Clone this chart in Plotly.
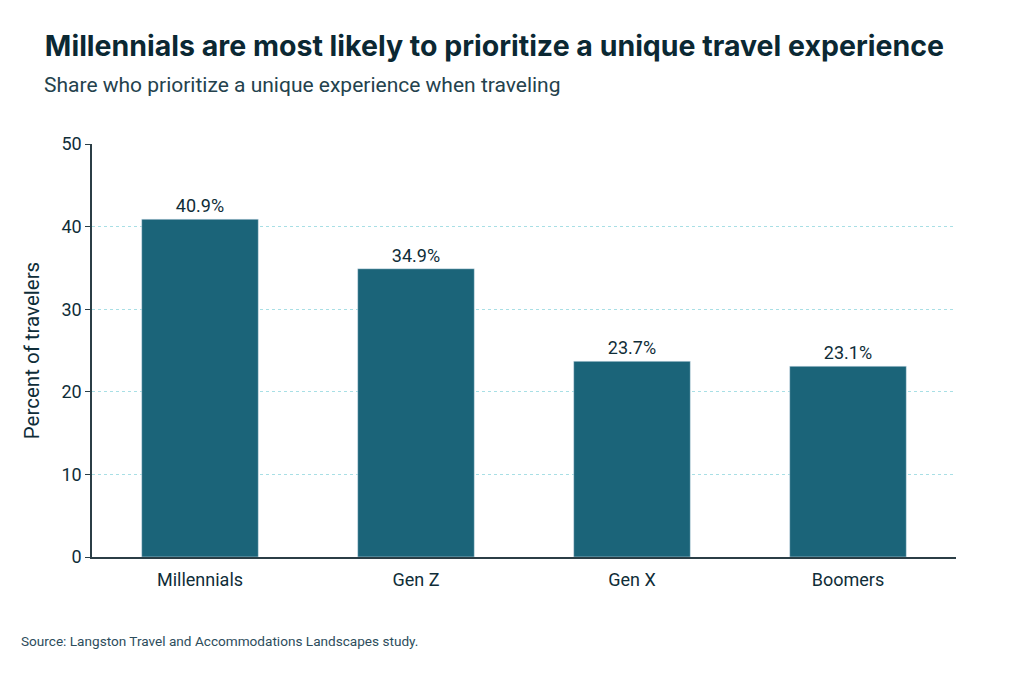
import plotly.graph_objects as go

generations = ["Millennials", "Gen Z", "Gen X", "Boomers"]
share = [40.9, 34.9, 23.7, 23.1]
labels = ["40.9%", "34.9%", "23.7%", "23.1%"]
y_ticks = [0, 10, 20, 30, 40, 50]

dark = "#0f2d38"
bar_col = "#1b6479"

fig = go.Figure()
fig.add_trace(go.Bar(
    x=generations, y=share, text=labels, textposition="outside",
    textfont=dict(size=18, color=dark), marker_color=bar_col,
    width=0.54, cliponaxis=False,
))

fig.update_layout(
    width=1024, height=683,
    margin=dict(l=84, r=76, t=136, b=134),
    paper_bgcolor="white", plot_bgcolor="white",
    font=dict(family="Roboto", color=dark),
    showlegend=False,
    title=dict(text="<b>Millennials are most likely to prioritize a unique travel experience</b>",
               x=0.036, xanchor="left", y=0.944, yanchor="middle",
               font=dict(family="Inter", size=28.5, color="#0b2833")),
)
fig.add_annotation(text="Share who prioritize a unique experience when traveling",
                   xref="paper", yref="paper", x=-0.058, y=1.144, xanchor="left", yanchor="middle",
                   showarrow=False, font=dict(size=21, color="#24424d"))
fig.add_annotation(text="Source: Langston Travel and Accommodations Landscapes study.",
                   xref="paper", yref="paper", x=-0.085, y=-0.203, xanchor="left", yanchor="middle",
                   showarrow=False, font=dict(size=13.6, color="#2d4d5c"))

fig.update_yaxes(range=[0, 50], tickvals=y_ticks, showgrid=True,
                 gridcolor="#a8dfe5", griddash="dot", gridwidth=1,
                 showline=True, linecolor="#2b3e46", linewidth=1.5,
                 ticks="outside", ticklen=5, tickcolor="#2b3e46",
                 tickfont=dict(size=18, color=dark), zeroline=False,
                 title=dict(text="Percent of travelers", font=dict(size=20.5, color=dark), standoff=16))
fig.update_xaxes(showline=True, linecolor="#2b3e46", linewidth=1.5,
                 tickfont=dict(size=18, color=dark), ticks="", ticklabelstandoff=6)

fig.write_html("out.html")
